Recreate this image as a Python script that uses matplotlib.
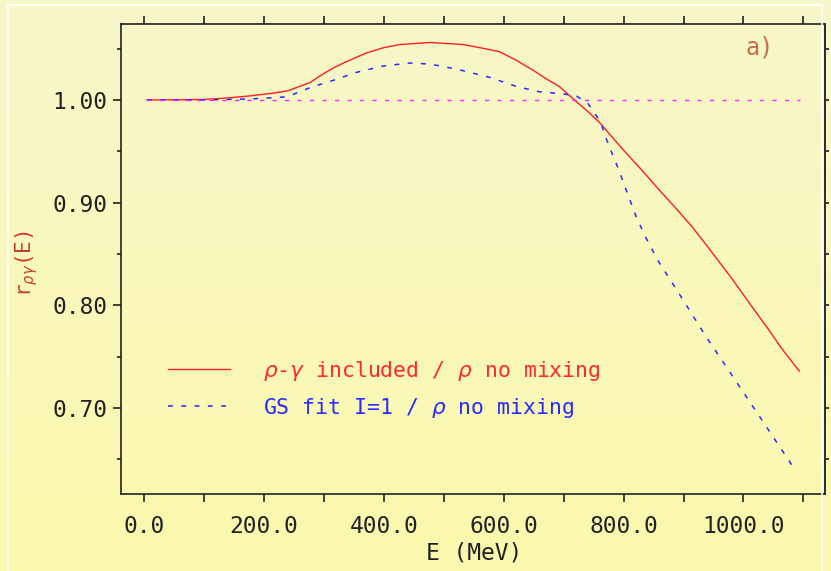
import numpy as np
import matplotlib
matplotlib.use("Agg")
import matplotlib.pyplot as plt
from matplotlib.patches import Rectangle

# valores (E en MeV)
E_mix = [5, 100, 140, 177, 220, 240, 277, 295, 315, 340, 372, 400, 427, 477, 532, 560,
         593, 620, 649, 670, 693, 718, 740, 760, 800, 830, 860, 885, 915, 943, 982,
         1010, 1040, 1065, 1093]
r_mix = [1.000, 1.0005, 1.002, 1.004, 1.007, 1.009, 1.017, 1.024, 1.031, 1.038, 1.046,
         1.051, 1.054, 1.056, 1.054, 1.051, 1.047, 1.039, 1.029, 1.021, 1.013, 1.000,
         0.989, 0.978, 0.951, 0.932, 0.912, 0.896, 0.876, 0.855, 0.825, 0.802, 0.778,
         0.757, 0.736]

E_gs = [5, 100, 177, 238, 277, 315, 355, 398, 443, 477, 522, 577, 622, 660, 698, 721,
        740, 752, 762, 770, 778, 785, 792, 807, 822, 838, 858, 892, 937, 983, 1030, 1088]
r_gs = [1.000, 1.000, 1.001, 1.003, 1.012, 1.019, 1.027, 1.033, 1.036, 1.035, 1.030,
        1.022, 1.013, 1.008, 1.006, 1.004, 0.997, 0.987, 0.978, 0.964, 0.952, 0.942,
        0.932, 0.908, 0.885, 0.865, 0.843, 0.812, 0.770, 0.730, 0.689, 0.638]

E_ref = [5, 1095]
r_ref = [1.0, 1.0]

lab_mix = r"$\rho$-$\gamma$ included / $\rho$ no mixing"
lab_gs = r"GS fit I=1 / $\rho$ no mixing"

xticks = [0, 200, 400, 600, 800, 1000]
xlabels = ["0.0", "200.0", "400.0", "600.0", "800.0", "1000.0"]
yticks = [0.70, 0.80, 0.90, 1.00]
ylabels = ["0.70", "0.80", "0.90", "1.00"]

plt.rcParams['font.family'] = ['DejaVu Sans Mono', 'DejaVu Sans']
plt.rcParams['mathtext.fontset'] = 'dejavusans'

W, H = 831, 571
fig = plt.figure(figsize=(W / 100, H / 100), dpi=100)

# fondo degradado amarillo
bg = fig.add_axes([0, 0, 1, 1], zorder=-10)
top = np.array([247, 246, 202]) / 255
bot = np.array([251, 249, 172]) / 255
t = np.linspace(0, 1, 256)[:, None]
grad = (top[None, :] * (1 - t) + bot[None, :] * t)[:, None, :]
bg.imshow(grad, aspect='auto', extent=[0, 1, 0, 1])
bg.set_axis_off()
fig.patches.append(Rectangle((8 / W, -0.1), (822 - 8) / W, 0.991 + 0.1,
                             transform=fig.transFigure, fill=False,
                             edgecolor='white', lw=1.2))

ax = fig.add_axes([121 / W, 77 / H, 704 / W, 470 / H])
ax.set_facecolor('none')

ax.plot(E_mix, r_mix, color='#ff1e1e', lw=1.0, label=lab_mix)
ax.plot(E_gs, r_gs, color='#2828ff', lw=1.1, dashes=(3.2, 5.5), label=lab_gs)
ax.plot(E_ref, r_ref, color='#ff20ff', lw=1.0, dashes=(3, 6))

ax.set_xlim(-38.4, 1136)
ax.set_ylim(0.6163, 1.074)

ax.set_xticks(xticks)
ax.set_xticklabels(xlabels)
ax.set_xticks(np.arange(100, 1101, 200), minor=True)
ax.set_yticks(yticks)
ax.set_yticklabels(ylabels)
ax.set_yticks([0.65, 0.75, 0.85, 0.95, 1.05], minor=True)

ax.tick_params(axis='x', which='both', direction='out', length=6, width=1.2,
               top=True, labelsize=16.5, pad=9, color='#222222', labelcolor='#222222')
ax.tick_params(axis='y', which='major', direction='out', length=6, width=1.2,
               labelsize=16.5, pad=4, color='#222222', labelcolor='#222222')
ax.tick_params(axis='y', which='minor', direction='out', length=3, width=1.2,
               color='#222222')
right = ax.secondary_yaxis('right')
right.set_yticks([0.65, 0.70, 0.75, 0.80, 0.85, 0.90, 0.95, 1.00, 1.05])
right.tick_params(direction='out', length=3, width=1.2, labelright=False,
                  color='#222222')
right.spines['right'].set_linewidth(1.2)
right.spines['right'].set_color('#555555')
for s in ax.spines.values():
    s.set_linewidth(1.2)
    s.set_color('#222222')

leg = ax.legend(loc='upper left', bbox_to_anchor=(0.0668, 0.288), frameon=False,
                fontsize=15.5, handlelength=2.9, handletextpad=1.5,
                labelspacing=0.6, borderpad=0, borderaxespad=0)
for txt, c in zip(leg.get_texts(), ['#ff2a2a', '#2a2aff']):
    txt.set_color(c)

ax.text(0.9077, 0.951, "a)", transform=ax.transAxes, ha='center', va='center',
        fontsize=17, color='#c8704e')

fig.text(474 / W, 1 - 553 / H, "E (MeV)", ha='center', va='center',
         fontsize=16.5, color='#222222')
fig.text(27 / W, 1 - 264 / H, r"r$_{\rho\gamma}$(E)", ha='center', va='center',
         rotation=90, fontsize=15, color='#c83c32')

fig.savefig('out.png', dpi=100)
